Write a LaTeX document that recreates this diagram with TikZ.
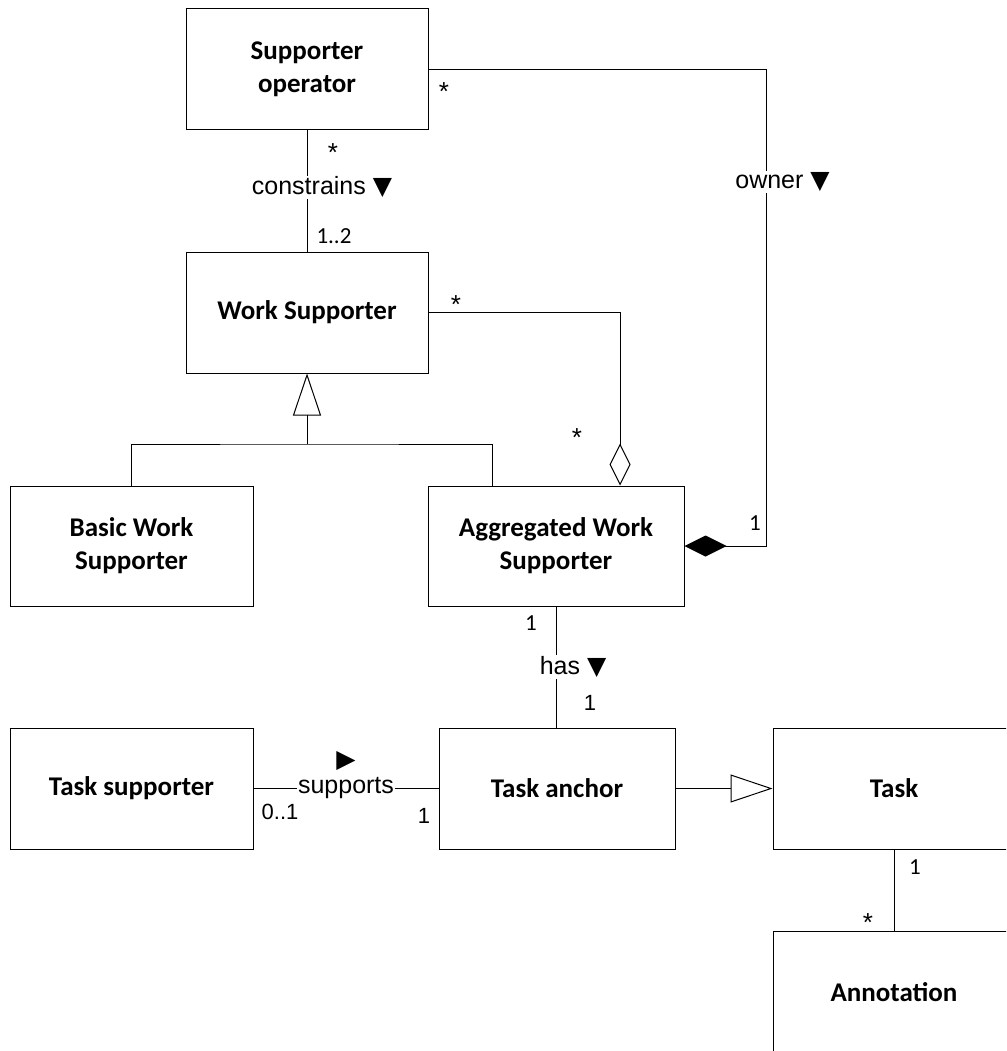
\documentclass[tikz,border=0pt]{standalone}
\usepackage{fontspec}
\setmainfont{Carlito}
\newfontfamily\arialfont{Liberation Sans}
\newfontfamily\symfont{DejaVu Sans}
\usetikzlibrary{arrows.meta,positioning,calc}

\tikzset{
  cls/.style = {draw, line width=1pt, minimum width=242pt, minimum height=121pt,
    align=center, font=\fontsize{27}{33}\selectfont\bfseries},
  assoc/.style = {draw, line width=1pt},
  lbl/.style = {fill=white, inner sep=1pt, font=\arialfont\fontsize{25}{30}\selectfont},
  tri/.style = {inner sep=0pt, font=\symfont\fontsize{25}{30}\selectfont},
  mult/.style = {inner sep=0pt, font=\fontsize{23}{26}\selectfont},
  amult/.style = {inner sep=0pt, font=\arialfont\fontsize{22}{26}\selectfont},
  star/.style = {inner sep=0pt, font=\arialfont\fontsize{26}{26}\selectfont},
  inherit/.style = {-{Triangle[open, length=42pt, width=28pt]}},
  aggr/.style = {{Diamond[open, length=42pt, width=21pt]}-},
  compo/.style = {{Diamond[length=42pt, width=21pt]}-}
}

\begin{document}
\begin{tikzpicture}[x=1pt, y=-1pt]
\clip (0,0) rectangle (1006,1051);

% classes
\node[cls] (op) at (307,69.5) {Supporter\\operator};
\node[cls] (ws) at (307,312.5) {Work Supporter};
\node[cls, minimum width=243pt, minimum height=120pt] (basic) at (131.5,546) {Basic Work\\Supporter};
\node[cls, minimum width=256pt, minimum height=120pt] (agg) at (556,546) {Aggregated Work\\Supporter};
\node[cls, minimum width=243pt] (tsup) at (131.5,788.5) {Task supporter};
\node[cls, minimum width=236pt] (anchor) at (557,788.5) {Task anchor};
\node[cls] (task) at (894,788.5) {Task};
\node[cls] (annot) at (894,992) {Annotation};

% constrains
\draw[assoc] (op.south) -- (ws.north)
  node[lbl, pos=0.47, xshift=15pt] {constrains {\symfont▼}};
\node[star] (m1) at (333,153) {*};
\node[mult] (m2) at (334,236) {1..2};

% owner (composition)
\draw[assoc, compo] (agg.east) -- ++(82,0) |- (op.east)
  node[lbl, pos=0.382, xshift=16pt] {owner {\symfont▼}};
\node[star] (m3) at (444,92) {*};
\node[mult] (m4) at (755,523) {1};

% aggregation
\draw[assoc, aggr] ($(agg.north)+(64,0)$) |- (ws.east);
\node[star] (m5) at (456,305) {*};
\node[star] (m6) at (577,438) {*};

% generalization
\coordinate (gen) at (307,444);
\draw[assoc, inherit] (gen) -- (ws.south);
\draw[assoc] (basic.north) |- (gen) -| ($(agg.north)+(-64,0)$);

% has
\draw[assoc] (agg.south) -- (agg.south |- anchor.north)
  node[lbl, midway, xshift=17pt] {has {\symfont▼}};
\node[mult] (m7) at (531,623) {1};
\node[amult] (m8) at (590,703) {1};

% supports
\draw[assoc] (tsup.east) -- (anchor.west) node[lbl, midway] (sup) {supports};
\node[tri, above=6pt of sup] (suptri) {▶};
\node[amult] (m9) at (280,812) {0..1};
\node[amult] (m10) at (424,816) {1};

% task
\draw[assoc, inherit] (anchor.east) -- (task.west);
\draw[assoc] (task.south) -- (annot.north);
\node[mult] (m11) at (915,867) {1};
\node[star] (m12) at (868,923) {*};
\end{tikzpicture}
\end{document}
